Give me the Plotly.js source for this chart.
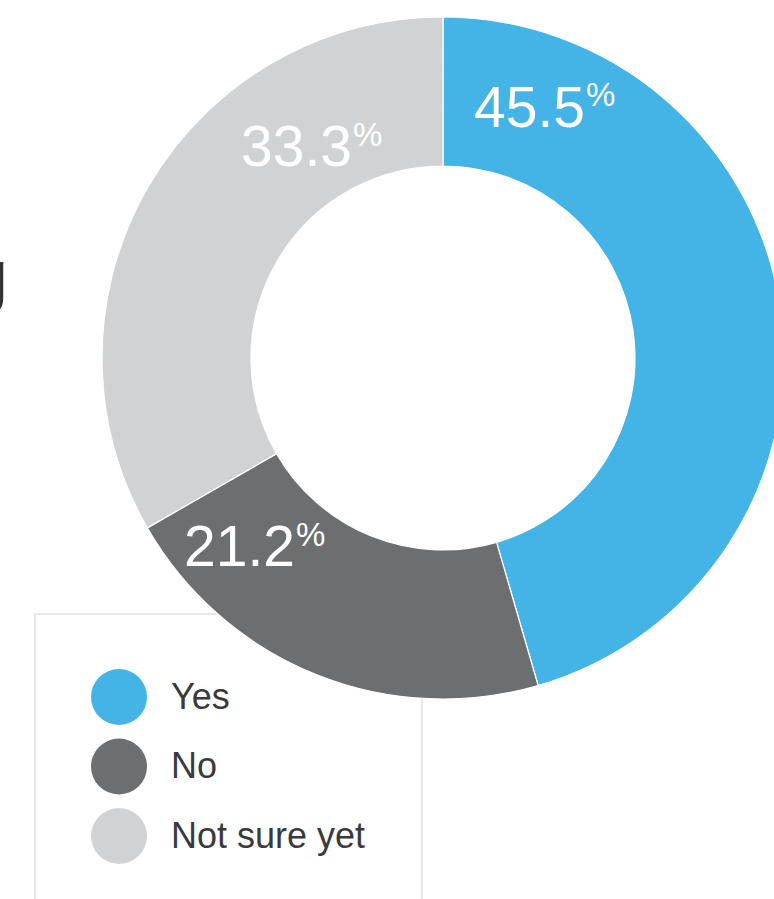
<!DOCTYPE html>
<html><head><meta charset="utf-8">
<script src="https://cdn.plot.ly/plotly-3.0.1.min.js"></script>
<style>html,body{margin:0;padding:0;overflow:hidden;background:#fff;width:774px;height:899px}#chart{width:800px;height:899px}</style>
</head><body><div id="chart"></div>
<script>
// ---- data ----
const categories = ['Yes', 'No', 'Not sure yet'];
const percentages = [45.5, 21.2, 33.3];
const sliceColors = ['#43b4e5', '#6d6e70', '#d1d2d4'];

// ---- layout constants (pixels) ----
const W = 800, H = 899;
const cx = 443, cy = 358, R = 341, holeFrac = 0.563;
const FONT = 'Liberation Sans, Arial, Helvetica, sans-serif';
const legendX = 119, legendY0 = 697, legendStep = 69.5, legendTextGap = 52, legendTextDy = 2.5;
const LABEL_SIZE = 57, PCT_SIZE = 33, PCT_RAISE = 12;
// label anchor points per category (left edge of digits, vertical middle of digits)
const labelAnchors = [[473, 107], [183, 546], [240, 146]];

const px = x => x / W;
const py = y => 1 - y / H;

const ctx = document.createElement('canvas').getContext('2d');
function textWidth(str, size) { ctx.font = size + 'px "Liberation Sans", Arial, sans-serif'; return ctx.measureText(str).width; }

const pie = {
  type: 'pie', labels: categories, values: percentages, sort: false,
  direction: 'clockwise', rotation: 0, hole: holeFrac,
  marker: { colors: sliceColors, line: { color: '#ffffff', width: 1.2 } },
  textinfo: 'none', hoverinfo: 'skip', showlegend: false,
  domain: { x: [px(cx - R), px(cx + R)], y: [py(cy + R), py(cy - R)] }
};

const idx = categories.map((_, i) => i);
const legendMarkers = {
  type: 'scatter', mode: 'markers', x: idx.map(() => 0), y: idx,
  marker: { size: 56, color: sliceColors, line: { width: 0 } },
  hoverinfo: 'skip', showlegend: false, cliponaxis: false
};
const legendText = {
  type: 'scatter', mode: 'text', x: idx.map(() => legendTextGap), y: idx.map(i => i + legendTextDy / legendStep),
  text: categories, textposition: 'middle right',
  textfont: { family: FONT, size: 36, color: '#3a3a3c' },
  hoverinfo: 'skip', showlegend: false, cliponaxis: false
};

const annotations = [];
percentages.forEach((v, i) => {
  const s = v.toFixed(1);
  const [ax, ay] = labelAnchors[i];
  annotations.push({
    xref: 'paper', yref: 'paper', x: px(ax), y: py(ay),
    xanchor: 'left', yanchor: 'middle', showarrow: false, borderpad: 0,
    text: s, font: { family: FONT, size: LABEL_SIZE, color: '#ffffff' }
  });
  annotations.push({
    xref: 'paper', yref: 'paper', x: px(ax + textWidth(s, LABEL_SIZE) + 1), y: py(ay - PCT_RAISE),
    xanchor: 'left', yanchor: 'middle', showarrow: false, borderpad: 0,
    text: '%', font: { family: FONT, size: PCT_SIZE, color: '#ffffff' }
  });
});
annotations.push({
  xref: 'paper', yref: 'paper', x: px(10), y: py(275), xanchor: 'right', yanchor: 'middle',
  showarrow: false, text: 'g', font: { family: FONT, size: 70, color: '#333333' }
});

const layout = {
  width: W, height: H, margin: { l: 0, r: 0, t: 0, b: 0 },
  paper_bgcolor: '#ffffff', plot_bgcolor: 'rgba(0,0,0,0)',
  showlegend: false, hovermode: false,
  xaxis: { visible: false, range: [-legendX, W - legendX], fixedrange: true },
  yaxis: { visible: false, range: [(H - legendY0) / legendStep, -legendY0 / legendStep], fixedrange: true },
  shapes: [{
    type: 'rect', xref: 'paper', yref: 'paper', layer: 'below',
    x0: px(35), x1: px(422), y0: -0.05, y1: py(614),
    line: { color: '#e6e6e6', width: 2 }, fillcolor: 'rgba(0,0,0,0)'
  }],
  annotations
};

Plotly.newPlot('chart', [legendMarkers, legendText, pie], layout, { staticPlot: true, displayModeBar: false });
</script></body></html>
